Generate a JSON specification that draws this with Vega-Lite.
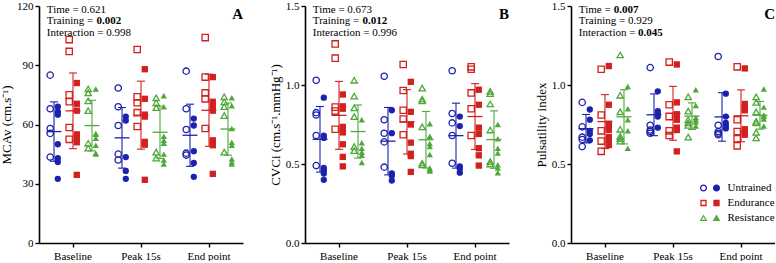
{
  "$schema": "https://vega.github.io/schema/vega-lite/v6.json",
  "background": "white",
  "padding": {"left": 0, "top": 0, "right": 0, "bottom": 0},
  "config": {
    "font": "Liberation Serif",
    "view": {"stroke": null},
    "axis": {"grid": false, "domainColor": "black", "domainWidth": 1.6, "tickColor": "black", "tickWidth": 1.4, "tickSize": 4, "labelColor": "black", "labelFont": "Liberation Serif", "labelFontSize": 11, "labelPadding": 2, "titleColor": "black", "titleFont": "Liberation Serif", "titleFontSize": 13, "titleFontWeight": "normal"},
    "axisX": {"labelPadding": 3, "labelAngle": 0},
    "axisY": {"titlePadding": 3},
    "legend": {
      "orient": "none", "legendX": 664, "legendY": 175, "title": null,
      "labelFont": "Liberation Serif", "labelFontSize": 11, "labelColor": "black", "labelOffset": 10.5,
      "symbolSize": 196, "symbolStrokeWidth": 0, "rowPadding": 3
    }
  },
  "datasets": {
    "mcav": [
      {"time":"Baseline","group":"Untrained","kind":"open","value":85},
      {"time":"Baseline","group":"Untrained","kind":"open","value":68},
      {"time":"Baseline","group":"Untrained","kind":"open","value":58},
      {"time":"Baseline","group":"Untrained","kind":"open","value":55.5},
      {"time":"Baseline","group":"Untrained","kind":"open","value":43.5},
      {"time":"Baseline","group":"Untrained","kind":"filled","value":69},
      {"time":"Baseline","group":"Untrained","kind":"filled","value":66.5},
      {"time":"Baseline","group":"Untrained","kind":"filled","value":65},
      {"time":"Baseline","group":"Untrained","kind":"filled","value":50},
      {"time":"Baseline","group":"Untrained","kind":"filled","value":43},
      {"time":"Baseline","group":"Untrained","kind":"filled","value":41},
      {"time":"Baseline","group":"Untrained","kind":"filled","value":32.5},
      {"time":"Baseline","group":"Endurance","kind":"open","value":103},
      {"time":"Baseline","group":"Endurance","kind":"open","value":97},
      {"time":"Baseline","group":"Endurance","kind":"open","value":75},
      {"time":"Baseline","group":"Endurance","kind":"open","value":71.5},
      {"time":"Baseline","group":"Endurance","kind":"open","value":58.5},
      {"time":"Baseline","group":"Endurance","kind":"open","value":52.5},
      {"time":"Baseline","group":"Endurance","kind":"filled","value":81},
      {"time":"Baseline","group":"Endurance","kind":"filled","value":70.5},
      {"time":"Baseline","group":"Endurance","kind":"filled","value":67},
      {"time":"Baseline","group":"Endurance","kind":"filled","value":55},
      {"time":"Baseline","group":"Endurance","kind":"filled","value":53.5},
      {"time":"Baseline","group":"Endurance","kind":"filled","value":51},
      {"time":"Baseline","group":"Endurance","kind":"filled","value":34.5},
      {"time":"Baseline","group":"Resistance","kind":"open","value":78},
      {"time":"Baseline","group":"Resistance","kind":"open","value":76},
      {"time":"Baseline","group":"Resistance","kind":"open","value":72},
      {"time":"Baseline","group":"Resistance","kind":"open","value":67},
      {"time":"Baseline","group":"Resistance","kind":"open","value":50.5},
      {"time":"Baseline","group":"Resistance","kind":"open","value":48},
      {"time":"Baseline","group":"Resistance","kind":"filled","value":78},
      {"time":"Baseline","group":"Resistance","kind":"filled","value":55.5},
      {"time":"Baseline","group":"Resistance","kind":"filled","value":55},
      {"time":"Baseline","group":"Resistance","kind":"filled","value":53},
      {"time":"Baseline","group":"Resistance","kind":"filled","value":49.5},
      {"time":"Baseline","group":"Resistance","kind":"filled","value":45.5},
      {"time":"Baseline","group":"Resistance","kind":"filled","value":45},
      {"time":"Peak 15s","group":"Untrained","kind":"open","value":78.5},
      {"time":"Peak 15s","group":"Untrained","kind":"open","value":69},
      {"time":"Peak 15s","group":"Untrained","kind":"open","value":59.5},
      {"time":"Peak 15s","group":"Untrained","kind":"open","value":45},
      {"time":"Peak 15s","group":"Untrained","kind":"open","value":42},
      {"time":"Peak 15s","group":"Untrained","kind":"filled","value":64},
      {"time":"Peak 15s","group":"Untrained","kind":"filled","value":62},
      {"time":"Peak 15s","group":"Untrained","kind":"filled","value":43.5},
      {"time":"Peak 15s","group":"Untrained","kind":"filled","value":36.5},
      {"time":"Peak 15s","group":"Untrained","kind":"filled","value":32.5},
      {"time":"Peak 15s","group":"Endurance","kind":"open","value":98},
      {"time":"Peak 15s","group":"Endurance","kind":"open","value":74},
      {"time":"Peak 15s","group":"Endurance","kind":"open","value":71},
      {"time":"Peak 15s","group":"Endurance","kind":"open","value":66},
      {"time":"Peak 15s","group":"Endurance","kind":"open","value":59},
      {"time":"Peak 15s","group":"Endurance","kind":"filled","value":88},
      {"time":"Peak 15s","group":"Endurance","kind":"filled","value":73},
      {"time":"Peak 15s","group":"Endurance","kind":"filled","value":65},
      {"time":"Peak 15s","group":"Endurance","kind":"filled","value":64},
      {"time":"Peak 15s","group":"Endurance","kind":"filled","value":51.2},
      {"time":"Peak 15s","group":"Endurance","kind":"filled","value":50.5},
      {"time":"Peak 15s","group":"Endurance","kind":"filled","value":49.8},
      {"time":"Peak 15s","group":"Endurance","kind":"filled","value":32},
      {"time":"Peak 15s","group":"Resistance","kind":"open","value":73.5},
      {"time":"Peak 15s","group":"Resistance","kind":"open","value":71},
      {"time":"Peak 15s","group":"Resistance","kind":"open","value":68.5},
      {"time":"Peak 15s","group":"Resistance","kind":"open","value":46},
      {"time":"Peak 15s","group":"Resistance","kind":"open","value":43},
      {"time":"Peak 15s","group":"Resistance","kind":"filled","value":74.5},
      {"time":"Peak 15s","group":"Resistance","kind":"filled","value":69},
      {"time":"Peak 15s","group":"Resistance","kind":"filled","value":54},
      {"time":"Peak 15s","group":"Resistance","kind":"filled","value":52},
      {"time":"Peak 15s","group":"Resistance","kind":"filled","value":50.5},
      {"time":"Peak 15s","group":"Resistance","kind":"filled","value":45},
      {"time":"Peak 15s","group":"Resistance","kind":"filled","value":42},
      {"time":"Peak 15s","group":"Resistance","kind":"filled","value":40},
      {"time":"End point","group":"Untrained","kind":"open","value":87},
      {"time":"End point","group":"Untrained","kind":"open","value":68},
      {"time":"End point","group":"Untrained","kind":"open","value":57.5},
      {"time":"End point","group":"Untrained","kind":"open","value":45.5},
      {"time":"End point","group":"Untrained","kind":"open","value":44.5},
      {"time":"End point","group":"Untrained","kind":"filled","value":63},
      {"time":"End point","group":"Untrained","kind":"filled","value":59.5},
      {"time":"End point","group":"Untrained","kind":"filled","value":46.5},
      {"time":"End point","group":"Untrained","kind":"filled","value":40.5},
      {"time":"End point","group":"Untrained","kind":"filled","value":33.5},
      {"time":"End point","group":"Endurance","kind":"open","value":104},
      {"time":"End point","group":"Endurance","kind":"open","value":84},
      {"time":"End point","group":"Endurance","kind":"open","value":76},
      {"time":"End point","group":"Endurance","kind":"open","value":73},
      {"time":"End point","group":"Endurance","kind":"open","value":58},
      {"time":"End point","group":"Endurance","kind":"filled","value":84},
      {"time":"End point","group":"Endurance","kind":"filled","value":71.5},
      {"time":"End point","group":"Endurance","kind":"filled","value":69},
      {"time":"End point","group":"Endurance","kind":"filled","value":67},
      {"time":"End point","group":"Endurance","kind":"filled","value":52},
      {"time":"End point","group":"Endurance","kind":"filled","value":50.5},
      {"time":"End point","group":"Endurance","kind":"filled","value":49.5},
      {"time":"End point","group":"Endurance","kind":"filled","value":35},
      {"time":"End point","group":"Resistance","kind":"open","value":74},
      {"time":"End point","group":"Resistance","kind":"open","value":71.5},
      {"time":"End point","group":"Resistance","kind":"open","value":69},
      {"time":"End point","group":"Resistance","kind":"open","value":64.5},
      {"time":"End point","group":"Resistance","kind":"open","value":46},
      {"time":"End point","group":"Resistance","kind":"filled","value":73.5},
      {"time":"End point","group":"Resistance","kind":"filled","value":69.5},
      {"time":"End point","group":"Resistance","kind":"filled","value":58},
      {"time":"End point","group":"Resistance","kind":"filled","value":51},
      {"time":"End point","group":"Resistance","kind":"filled","value":49.5},
      {"time":"End point","group":"Resistance","kind":"filled","value":42.5},
      {"time":"End point","group":"Resistance","kind":"filled","value":41},
      {"time":"End point","group":"Resistance","kind":"filled","value":40}
    ],
    "cvci": [
      {"time":"Baseline","group":"Untrained","kind":"open","value":1.03},
      {"time":"Baseline","group":"Untrained","kind":"open","value":0.825},
      {"time":"Baseline","group":"Untrained","kind":"open","value":0.81},
      {"time":"Baseline","group":"Untrained","kind":"open","value":0.68},
      {"time":"Baseline","group":"Untrained","kind":"open","value":0.49},
      {"time":"Baseline","group":"Untrained","kind":"filled","value":0.92},
      {"time":"Baseline","group":"Untrained","kind":"filled","value":0.68},
      {"time":"Baseline","group":"Untrained","kind":"filled","value":0.665},
      {"time":"Baseline","group":"Untrained","kind":"filled","value":0.475},
      {"time":"Baseline","group":"Untrained","kind":"filled","value":0.46},
      {"time":"Baseline","group":"Untrained","kind":"filled","value":0.44},
      {"time":"Baseline","group":"Untrained","kind":"filled","value":0.40},
      {"time":"Baseline","group":"Endurance","kind":"open","value":1.26},
      {"time":"Baseline","group":"Endurance","kind":"open","value":1.17},
      {"time":"Baseline","group":"Endurance","kind":"open","value":0.86},
      {"time":"Baseline","group":"Endurance","kind":"open","value":0.835},
      {"time":"Baseline","group":"Endurance","kind":"open","value":0.72},
      {"time":"Baseline","group":"Endurance","kind":"filled","value":0.94},
      {"time":"Baseline","group":"Endurance","kind":"filled","value":0.865},
      {"time":"Baseline","group":"Endurance","kind":"filled","value":0.85},
      {"time":"Baseline","group":"Endurance","kind":"filled","value":0.735},
      {"time":"Baseline","group":"Endurance","kind":"filled","value":0.72},
      {"time":"Baseline","group":"Endurance","kind":"filled","value":0.70},
      {"time":"Baseline","group":"Endurance","kind":"filled","value":0.625},
      {"time":"Baseline","group":"Endurance","kind":"filled","value":0.545},
      {"time":"Baseline","group":"Endurance","kind":"filled","value":0.485},
      {"time":"Baseline","group":"Resistance","kind":"open","value":1.03},
      {"time":"Baseline","group":"Resistance","kind":"open","value":0.93},
      {"time":"Baseline","group":"Resistance","kind":"open","value":0.855},
      {"time":"Baseline","group":"Resistance","kind":"open","value":0.80},
      {"time":"Baseline","group":"Resistance","kind":"open","value":0.61},
      {"time":"Baseline","group":"Resistance","kind":"open","value":0.585},
      {"time":"Baseline","group":"Resistance","kind":"filled","value":0.78},
      {"time":"Baseline","group":"Resistance","kind":"filled","value":0.635},
      {"time":"Baseline","group":"Resistance","kind":"filled","value":0.60},
      {"time":"Baseline","group":"Resistance","kind":"filled","value":0.575},
      {"time":"Baseline","group":"Resistance","kind":"filled","value":0.555},
      {"time":"Baseline","group":"Resistance","kind":"filled","value":0.51},
      {"time":"Peak 15s","group":"Untrained","kind":"open","value":1.055},
      {"time":"Peak 15s","group":"Untrained","kind":"open","value":0.78},
      {"time":"Peak 15s","group":"Untrained","kind":"open","value":0.695},
      {"time":"Peak 15s","group":"Untrained","kind":"open","value":0.64},
      {"time":"Peak 15s","group":"Untrained","kind":"open","value":0.48},
      {"time":"Peak 15s","group":"Untrained","kind":"filled","value":0.84},
      {"time":"Peak 15s","group":"Untrained","kind":"filled","value":0.695},
      {"time":"Peak 15s","group":"Untrained","kind":"filled","value":0.44},
      {"time":"Peak 15s","group":"Untrained","kind":"filled","value":0.425},
      {"time":"Peak 15s","group":"Untrained","kind":"filled","value":0.395},
      {"time":"Peak 15s","group":"Endurance","kind":"open","value":1.13},
      {"time":"Peak 15s","group":"Endurance","kind":"open","value":0.965},
      {"time":"Peak 15s","group":"Endurance","kind":"open","value":0.84},
      {"time":"Peak 15s","group":"Endurance","kind":"open","value":0.785},
      {"time":"Peak 15s","group":"Endurance","kind":"open","value":0.685},
      {"time":"Peak 15s","group":"Endurance","kind":"filled","value":1.02},
      {"time":"Peak 15s","group":"Endurance","kind":"filled","value":0.83},
      {"time":"Peak 15s","group":"Endurance","kind":"filled","value":0.75},
      {"time":"Peak 15s","group":"Endurance","kind":"filled","value":0.635},
      {"time":"Peak 15s","group":"Endurance","kind":"filled","value":0.565},
      {"time":"Peak 15s","group":"Endurance","kind":"filled","value":0.55},
      {"time":"Peak 15s","group":"Endurance","kind":"filled","value":0.45},
      {"time":"Peak 15s","group":"Resistance","kind":"open","value":0.98},
      {"time":"Peak 15s","group":"Resistance","kind":"open","value":0.91},
      {"time":"Peak 15s","group":"Resistance","kind":"open","value":0.90},
      {"time":"Peak 15s","group":"Resistance","kind":"open","value":0.735},
      {"time":"Peak 15s","group":"Resistance","kind":"open","value":0.505},
      {"time":"Peak 15s","group":"Resistance","kind":"open","value":0.495},
      {"time":"Peak 15s","group":"Resistance","kind":"filled","value":0.755},
      {"time":"Peak 15s","group":"Resistance","kind":"filled","value":0.675},
      {"time":"Peak 15s","group":"Resistance","kind":"filled","value":0.63},
      {"time":"Peak 15s","group":"Resistance","kind":"filled","value":0.61},
      {"time":"Peak 15s","group":"Resistance","kind":"filled","value":0.56},
      {"time":"Peak 15s","group":"Resistance","kind":"filled","value":0.475},
      {"time":"Peak 15s","group":"Resistance","kind":"filled","value":0.465},
      {"time":"Peak 15s","group":"Resistance","kind":"filled","value":0.455},
      {"time":"End point","group":"Untrained","kind":"open","value":1.09},
      {"time":"End point","group":"Untrained","kind":"open","value":0.82},
      {"time":"End point","group":"Untrained","kind":"open","value":0.76},
      {"time":"End point","group":"Untrained","kind":"open","value":0.68},
      {"time":"End point","group":"Untrained","kind":"open","value":0.505},
      {"time":"End point","group":"Untrained","kind":"filled","value":0.80},
      {"time":"End point","group":"Untrained","kind":"filled","value":0.74},
      {"time":"End point","group":"Untrained","kind":"filled","value":0.485},
      {"time":"End point","group":"Untrained","kind":"filled","value":0.47},
      {"time":"End point","group":"Untrained","kind":"filled","value":0.445},
      {"time":"End point","group":"Endurance","kind":"open","value":1.115},
      {"time":"End point","group":"Endurance","kind":"open","value":1.10},
      {"time":"End point","group":"Endurance","kind":"open","value":0.95},
      {"time":"End point","group":"Endurance","kind":"open","value":0.85},
      {"time":"End point","group":"Endurance","kind":"open","value":0.68},
      {"time":"End point","group":"Endurance","kind":"filled","value":0.97},
      {"time":"End point","group":"Endurance","kind":"filled","value":0.875},
      {"time":"End point","group":"Endurance","kind":"filled","value":0.73},
      {"time":"End point","group":"Endurance","kind":"filled","value":0.69},
      {"time":"End point","group":"Endurance","kind":"filled","value":0.60},
      {"time":"End point","group":"Endurance","kind":"filled","value":0.555},
      {"time":"End point","group":"Endurance","kind":"filled","value":0.49},
      {"time":"End point","group":"Resistance","kind":"open","value":0.96},
      {"time":"End point","group":"Resistance","kind":"open","value":0.945},
      {"time":"End point","group":"Resistance","kind":"open","value":0.88},
      {"time":"End point","group":"Resistance","kind":"open","value":0.715},
      {"time":"End point","group":"Resistance","kind":"open","value":0.515},
      {"time":"End point","group":"Resistance","kind":"open","value":0.50},
      {"time":"End point","group":"Resistance","kind":"filled","value":0.75},
      {"time":"End point","group":"Resistance","kind":"filled","value":0.66},
      {"time":"End point","group":"Resistance","kind":"filled","value":0.60},
      {"time":"End point","group":"Resistance","kind":"filled","value":0.57},
      {"time":"End point","group":"Resistance","kind":"filled","value":0.495},
      {"time":"End point","group":"Resistance","kind":"filled","value":0.475},
      {"time":"End point","group":"Resistance","kind":"filled","value":0.445}
    ],
    "pi": [
      {"time":"Baseline","group":"Untrained","kind":"open","value":0.89},
      {"time":"Baseline","group":"Untrained","kind":"open","value":0.735},
      {"time":"Baseline","group":"Untrained","kind":"open","value":0.67},
      {"time":"Baseline","group":"Untrained","kind":"open","value":0.655},
      {"time":"Baseline","group":"Untrained","kind":"open","value":0.61},
      {"time":"Baseline","group":"Untrained","kind":"filled","value":0.845},
      {"time":"Baseline","group":"Untrained","kind":"filled","value":0.78},
      {"time":"Baseline","group":"Untrained","kind":"filled","value":0.71},
      {"time":"Baseline","group":"Untrained","kind":"filled","value":0.69},
      {"time":"Baseline","group":"Untrained","kind":"filled","value":0.65},
      {"time":"Baseline","group":"Endurance","kind":"open","value":1.10},
      {"time":"Baseline","group":"Endurance","kind":"open","value":0.81},
      {"time":"Baseline","group":"Endurance","kind":"open","value":0.71},
      {"time":"Baseline","group":"Endurance","kind":"open","value":0.645},
      {"time":"Baseline","group":"Endurance","kind":"open","value":0.58},
      {"time":"Baseline","group":"Endurance","kind":"filled","value":1.12},
      {"time":"Baseline","group":"Endurance","kind":"filled","value":0.875},
      {"time":"Baseline","group":"Endurance","kind":"filled","value":0.755},
      {"time":"Baseline","group":"Endurance","kind":"filled","value":0.735},
      {"time":"Baseline","group":"Endurance","kind":"filled","value":0.715},
      {"time":"Baseline","group":"Endurance","kind":"filled","value":0.67},
      {"time":"Baseline","group":"Endurance","kind":"filled","value":0.655},
      {"time":"Baseline","group":"Endurance","kind":"filled","value":0.62},
      {"time":"Baseline","group":"Resistance","kind":"open","value":1.19},
      {"time":"Baseline","group":"Resistance","kind":"open","value":0.935},
      {"time":"Baseline","group":"Resistance","kind":"open","value":0.83},
      {"time":"Baseline","group":"Resistance","kind":"open","value":0.72},
      {"time":"Baseline","group":"Resistance","kind":"open","value":0.675},
      {"time":"Baseline","group":"Resistance","kind":"open","value":0.66},
      {"time":"Baseline","group":"Resistance","kind":"open","value":0.645},
      {"time":"Baseline","group":"Resistance","kind":"filled","value":0.99},
      {"time":"Baseline","group":"Resistance","kind":"filled","value":0.85},
      {"time":"Baseline","group":"Resistance","kind":"filled","value":0.78},
      {"time":"Baseline","group":"Resistance","kind":"filled","value":0.71},
      {"time":"Baseline","group":"Resistance","kind":"filled","value":0.60},
      {"time":"Peak 15s","group":"Untrained","kind":"open","value":1.11},
      {"time":"Peak 15s","group":"Untrained","kind":"open","value":0.745},
      {"time":"Peak 15s","group":"Untrained","kind":"open","value":0.715},
      {"time":"Peak 15s","group":"Untrained","kind":"open","value":0.705},
      {"time":"Peak 15s","group":"Untrained","kind":"open","value":0.695},
      {"time":"Peak 15s","group":"Untrained","kind":"filled","value":0.96},
      {"time":"Peak 15s","group":"Untrained","kind":"filled","value":0.835},
      {"time":"Peak 15s","group":"Untrained","kind":"filled","value":0.82},
      {"time":"Peak 15s","group":"Untrained","kind":"filled","value":0.80},
      {"time":"Peak 15s","group":"Untrained","kind":"filled","value":0.73},
      {"time":"Peak 15s","group":"Endurance","kind":"open","value":1.145},
      {"time":"Peak 15s","group":"Endurance","kind":"open","value":0.875},
      {"time":"Peak 15s","group":"Endurance","kind":"open","value":0.80},
      {"time":"Peak 15s","group":"Endurance","kind":"open","value":0.71},
      {"time":"Peak 15s","group":"Endurance","kind":"open","value":0.68},
      {"time":"Peak 15s","group":"Endurance","kind":"filled","value":1.13},
      {"time":"Peak 15s","group":"Endurance","kind":"filled","value":0.89},
      {"time":"Peak 15s","group":"Endurance","kind":"filled","value":0.815},
      {"time":"Peak 15s","group":"Endurance","kind":"filled","value":0.78},
      {"time":"Peak 15s","group":"Endurance","kind":"filled","value":0.73},
      {"time":"Peak 15s","group":"Endurance","kind":"filled","value":0.715},
      {"time":"Peak 15s","group":"Endurance","kind":"filled","value":0.58},
      {"time":"Peak 15s","group":"Resistance","kind":"open","value":0.925},
      {"time":"Peak 15s","group":"Resistance","kind":"open","value":0.835},
      {"time":"Peak 15s","group":"Resistance","kind":"open","value":0.78},
      {"time":"Peak 15s","group":"Resistance","kind":"open","value":0.76},
      {"time":"Peak 15s","group":"Resistance","kind":"open","value":0.745},
      {"time":"Peak 15s","group":"Resistance","kind":"open","value":0.67},
      {"time":"Peak 15s","group":"Resistance","kind":"filled","value":0.97},
      {"time":"Peak 15s","group":"Resistance","kind":"filled","value":0.87},
      {"time":"Peak 15s","group":"Resistance","kind":"filled","value":0.795},
      {"time":"Peak 15s","group":"Resistance","kind":"filled","value":0.78},
      {"time":"Peak 15s","group":"Resistance","kind":"filled","value":0.765},
      {"time":"Peak 15s","group":"Resistance","kind":"filled","value":0.74},
      {"time":"End point","group":"Untrained","kind":"open","value":1.18},
      {"time":"End point","group":"Untrained","kind":"open","value":0.745},
      {"time":"End point","group":"Untrained","kind":"open","value":0.705},
      {"time":"End point","group":"Untrained","kind":"open","value":0.695},
      {"time":"End point","group":"Untrained","kind":"open","value":0.685},
      {"time":"End point","group":"Untrained","kind":"filled","value":0.945},
      {"time":"End point","group":"Untrained","kind":"filled","value":0.80},
      {"time":"End point","group":"Untrained","kind":"filled","value":0.76},
      {"time":"End point","group":"Untrained","kind":"filled","value":0.74},
      {"time":"End point","group":"Untrained","kind":"filled","value":0.725},
      {"time":"End point","group":"Endurance","kind":"open","value":1.115},
      {"time":"End point","group":"Endurance","kind":"open","value":0.78},
      {"time":"End point","group":"Endurance","kind":"open","value":0.705},
      {"time":"End point","group":"Endurance","kind":"open","value":0.66},
      {"time":"End point","group":"Endurance","kind":"open","value":0.615},
      {"time":"End point","group":"Endurance","kind":"filled","value":1.105},
      {"time":"End point","group":"Endurance","kind":"filled","value":0.88},
      {"time":"End point","group":"Endurance","kind":"filled","value":0.855},
      {"time":"End point","group":"Endurance","kind":"filled","value":0.84},
      {"time":"End point","group":"Endurance","kind":"filled","value":0.72},
      {"time":"End point","group":"Endurance","kind":"filled","value":0.70},
      {"time":"End point","group":"Endurance","kind":"filled","value":0.685},
      {"time":"End point","group":"Resistance","kind":"open","value":0.925},
      {"time":"End point","group":"Resistance","kind":"open","value":0.89},
      {"time":"End point","group":"Resistance","kind":"open","value":0.83},
      {"time":"End point","group":"Resistance","kind":"open","value":0.77},
      {"time":"End point","group":"Resistance","kind":"open","value":0.76},
      {"time":"End point","group":"Resistance","kind":"open","value":0.70},
      {"time":"End point","group":"Resistance","kind":"open","value":0.665},
      {"time":"End point","group":"Resistance","kind":"filled","value":0.975},
      {"time":"End point","group":"Resistance","kind":"filled","value":0.86},
      {"time":"End point","group":"Resistance","kind":"filled","value":0.81},
      {"time":"End point","group":"Resistance","kind":"filled","value":0.80},
      {"time":"End point","group":"Resistance","kind":"filled","value":0.785},
      {"time":"End point","group":"Resistance","kind":"filled","value":0.74}
    ]
  },
  "spacing": 62,
  "bounds": "flush",
  "hconcat": [
    {
      "width": 204, "height": 237,
      "data": {"name": "mcav"},
      "layer": [
        {
          "transform": [{"filter": "datum.kind === 'open'"}, {"calculate": "datum.group + ' ' + datum.kind", "as": "slot"}],
          "mark": {"type": "point", "filled": false, "size": 40, "strokeWidth": 1.3, "opacity": 1},
          "encoding": {
            "x": {"field": "time", "type": "nominal", "scale": {"domain": ["Baseline", "Peak 15s", "End point"], "paddingInner": 0.2, "paddingOuter": 0.1}, "axis": {"title": null}},
            "xOffset": {"field": "slot", "type": "nominal", "scale": {"domain": ["Untrained open", "Untrained mean", "Untrained filled", "gap a", "gap b", "Endurance open", "Endurance mean", "Endurance filled", "gap c", "gap d", "Resistance open", "Resistance mean", "Resistance filled"], "paddingInner": 0, "paddingOuter": 0.66}},
            "y": {"field": "value", "type": "quantitative", "scale": {"domain": [0, 120], "nice": false}, "axis": {"title": "MCAv (cm.s⁻¹)", "values": [0, 30, 60, 90, 120]}},
            "shape": {"field": "group", "type": "nominal", "scale": {"range": ["square", "triangle-up", "circle"]}, "legend": null},
            "stroke": {"field": "group", "type": "nominal", "scale": {"range": ["#d1211f", "#4ea83a", "#1c22ad"]}, "legend": null}
          }
        },
        {
          "transform": [{"filter": "datum.kind === 'filled'"}, {"calculate": "datum.group + ' ' + datum.kind", "as": "slot"}],
          "mark": {"type": "point", "filled": true, "size": 40, "strokeWidth": 0, "opacity": 1},
          "encoding": {
            "x": {"field": "time", "type": "nominal"},
            "xOffset": {"field": "slot", "type": "nominal"},
            "y": {"field": "value", "type": "quantitative"},
            "shape": {"field": "group", "type": "nominal", "legend": null},
            "fill": {"field": "group", "type": "nominal", "scale": {"domain": ["Untrained", "Endurance", "Resistance"], "range": ["#1c22ad", "#d1211f", "#4ea83a"]}}
          }
        },
        {
          "transform": [
            {"aggregate": [{"op": "mean", "field": "value", "as": "mean"}, {"op": "stdev", "field": "value", "as": "sd"}], "groupby": ["time", "group"]},
            {"calculate": "datum.mean - datum.sd", "as": "lower"},
            {"calculate": "datum.mean + datum.sd", "as": "upper"},
            {"calculate": "datum.group + ' mean'", "as": "slot"}
          ],
          "encoding": {
            "x": {"field": "time", "type": "nominal"},
            "xOffset": {"field": "slot", "type": "nominal"},
            "color": {"field": "group", "type": "nominal", "scale": {"range": ["#d1211f", "#4ea83a", "#1c22ad"]}, "legend": null}
          },
          "layer": [
            {"mark": {"type": "rule", "strokeWidth": 1.1}, "encoding": {"y": {"field": "lower", "type": "quantitative"}, "y2": {"field": "upper"}}},
            {"mark": {"type": "tick", "size": 8, "thickness": 1.1, "opacity": 1}, "encoding": {"y": {"field": "lower", "type": "quantitative"}}},
            {"mark": {"type": "tick", "size": 8, "thickness": 1.1, "opacity": 1}, "encoding": {"y": {"field": "upper", "type": "quantitative"}}},
            {"mark": {"type": "tick", "size": 15, "thickness": 1.3, "opacity": 1}, "encoding": {"y": {"field": "mean", "type": "quantitative"}}}
          ]
        },
        {
          "data": {"values": [{}]},
          "mark": {"type": "text", "text": ["Time = 0.621", "Training = ", "Interaction = 0.998"], "align": "left", "baseline": "top", "fontSize": 11, "lineHeight": 11.3, "dx": 1, "dy": -2, "color": "black"},
          "encoding": {"x": {"datum": "Baseline", "bandPosition": 0}, "y": {"datum": 120}}
        },
        {
          "data": {"values": [{}]},
          "mark": {"type": "text", "text": "0.002", "fontWeight": "bold", "align": "left", "baseline": "top", "fontSize": 11, "dx": 50.6, "dy": 9.3, "color": "black"},
          "encoding": {"x": {"datum": "Baseline", "bandPosition": 0}, "y": {"datum": 120}}
        },
        {
          "data": {"values": [{}]},
          "mark": {"type": "text", "text": "A", "fontSize": 15, "fontWeight": "bold", "align": "right", "baseline": "top", "dy": 1, "color": "black"},
          "encoding": {"x": {"value": "width"}, "y": {"datum": 120}}
        }
      ]
    },
    {
      "width": 204, "height": 237,
      "data": {"name": "cvci"},
      "layer": [
        {
          "transform": [{"filter": "datum.kind === 'open'"}, {"calculate": "datum.group + ' ' + datum.kind", "as": "slot"}],
          "mark": {"type": "point", "filled": false, "size": 40, "strokeWidth": 1.3, "opacity": 1},
          "encoding": {
            "x": {"field": "time", "type": "nominal", "scale": {"domain": ["Baseline", "Peak 15s", "End point"], "paddingInner": 0.2, "paddingOuter": 0.1}, "axis": {"title": null}},
            "xOffset": {"field": "slot", "type": "nominal", "scale": {"domain": ["Untrained open", "Untrained mean", "Untrained filled", "gap a", "gap b", "Endurance open", "Endurance mean", "Endurance filled", "gap c", "gap d", "Resistance open", "Resistance mean", "Resistance filled"], "paddingInner": 0, "paddingOuter": 0.66}},
            "y": {"field": "value", "type": "quantitative", "scale": {"domain": [0, 1.5], "nice": false}, "axis": {"title": "CVCi (cm.s⁻¹.mmHg⁻¹)", "values": [0, 0.25, 0.5, 0.75, 1, 1.25, 1.5], "labelExpr": "datum.value % 0.5 === 0 ? format(datum.value, '.1f') : ''"}},
            "shape": {"field": "group", "type": "nominal", "legend": null},
            "stroke": {"field": "group", "type": "nominal", "legend": null}
          }
        },
        {
          "transform": [{"filter": "datum.kind === 'filled'"}, {"calculate": "datum.group + ' ' + datum.kind", "as": "slot"}],
          "mark": {"type": "point", "filled": true, "size": 40, "strokeWidth": 0, "opacity": 1},
          "encoding": {
            "x": {"field": "time", "type": "nominal"},
            "xOffset": {"field": "slot", "type": "nominal"},
            "y": {"field": "value", "type": "quantitative"},
            "shape": {"field": "group", "type": "nominal", "legend": null},
            "fill": {"field": "group", "type": "nominal"}
          }
        },
        {
          "transform": [
            {"aggregate": [{"op": "mean", "field": "value", "as": "mean"}, {"op": "stdev", "field": "value", "as": "sd"}], "groupby": ["time", "group"]},
            {"calculate": "datum.mean - datum.sd", "as": "lower"},
            {"calculate": "datum.mean + datum.sd", "as": "upper"},
            {"calculate": "datum.group + ' mean'", "as": "slot"}
          ],
          "encoding": {
            "x": {"field": "time", "type": "nominal"},
            "xOffset": {"field": "slot", "type": "nominal"},
            "color": {"field": "group", "type": "nominal", "legend": null}
          },
          "layer": [
            {"mark": {"type": "rule", "strokeWidth": 1.1}, "encoding": {"y": {"field": "lower", "type": "quantitative"}, "y2": {"field": "upper"}}},
            {"mark": {"type": "tick", "size": 8, "thickness": 1.1, "opacity": 1}, "encoding": {"y": {"field": "lower", "type": "quantitative"}}},
            {"mark": {"type": "tick", "size": 8, "thickness": 1.1, "opacity": 1}, "encoding": {"y": {"field": "upper", "type": "quantitative"}}},
            {"mark": {"type": "tick", "size": 15, "thickness": 1.3, "opacity": 1}, "encoding": {"y": {"field": "mean", "type": "quantitative"}}}
          ]
        },
        {
          "data": {"values": [{}]},
          "mark": {"type": "text", "text": ["Time = 0.673", "Training = ", "Interaction = 0.996"], "align": "left", "baseline": "top", "fontSize": 11, "lineHeight": 11.3, "dx": 1, "dy": -2, "color": "black"},
          "encoding": {"x": {"datum": "Baseline", "bandPosition": 0}, "y": {"datum": 1.5}}
        },
        {
          "data": {"values": [{}]},
          "mark": {"type": "text", "text": "0.012", "fontWeight": "bold", "align": "left", "baseline": "top", "fontSize": 11, "dx": 50.6, "dy": 9.3, "color": "black"},
          "encoding": {"x": {"datum": "Baseline", "bandPosition": 0}, "y": {"datum": 1.5}}
        },
        {
          "data": {"values": [{}]},
          "mark": {"type": "text", "text": "B", "fontSize": 15, "fontWeight": "bold", "align": "right", "baseline": "top", "dy": 1, "color": "black"},
          "encoding": {"x": {"value": "width"}, "y": {"datum": 1.5}}
        }
      ]
    },
    {
      "width": 204, "height": 237,
      "data": {"name": "pi"},
      "layer": [
        {
          "transform": [{"filter": "datum.kind === 'open'"}, {"calculate": "datum.group + ' ' + datum.kind", "as": "slot"}],
          "mark": {"type": "point", "filled": false, "size": 40, "strokeWidth": 1.3, "opacity": 1},
          "encoding": {
            "x": {"field": "time", "type": "nominal", "scale": {"domain": ["Baseline", "Peak 15s", "End point"], "paddingInner": 0.2, "paddingOuter": 0.1}, "axis": {"title": null}},
            "xOffset": {"field": "slot", "type": "nominal", "scale": {"domain": ["Untrained open", "Untrained mean", "Untrained filled", "gap a", "gap b", "Endurance open", "Endurance mean", "Endurance filled", "gap c", "gap d", "Resistance open", "Resistance mean", "Resistance filled"], "paddingInner": 0, "paddingOuter": 0.66}},
            "y": {"field": "value", "type": "quantitative", "scale": {"domain": [0, 1.5], "nice": false}, "axis": {"title": "Pulsatility index", "values": [0, 0.25, 0.5, 0.75, 1, 1.25, 1.5], "labelExpr": "datum.value % 0.5 === 0 ? format(datum.value, '.1f') : ''"}},
            "shape": {"field": "group", "type": "nominal", "legend": null},
            "stroke": {"field": "group", "type": "nominal", "legend": null}
          }
        },
        {
          "transform": [{"filter": "datum.kind === 'filled'"}, {"calculate": "datum.group + ' ' + datum.kind", "as": "slot"}],
          "mark": {"type": "point", "filled": true, "size": 40, "strokeWidth": 0, "opacity": 1},
          "encoding": {
            "x": {"field": "time", "type": "nominal"},
            "xOffset": {"field": "slot", "type": "nominal"},
            "y": {"field": "value", "type": "quantitative"},
            "shape": {"field": "group", "type": "nominal", "legend": null},
            "fill": {
              "field": "group", "type": "nominal",
              "legend": {
                "encoding": {
                  "symbols": {
                    "shape": {
                      "condition": [
                        {"test": "datum.value === 'Endurance'", "value": "M -1.38,-0.45 H -0.48 V 0.45 H -1.38 Z M -1.194,-0.264 V 0.264 H -0.666 V -0.264 Z M 0.48,-0.45 H 1.38 V 0.45 H 0.48 Z"},
                        {"test": "datum.value === 'Resistance'", "value": "M -0.93,-0.514 L -0.387,0.429 L -1.473,0.429 Z M -0.93,-0.171 L -1.176,0.257 L -0.684,0.257 Z M 0.93,-0.514 L 1.473,0.429 L 0.387,0.429 Z"}
                      ],
                      "value": "M -1.437,0 A 0.507,0.507 0 1,1 -0.423,0 A 0.507,0.507 0 1,1 -1.437,0 Z M -1.25,0 A 0.32,0.32 0 1,0 -0.61,0 A 0.32,0.32 0 1,0 -1.25,0 Z M 0.423,0 A 0.507,0.507 0 1,1 1.437,0 A 0.507,0.507 0 1,1 0.423,0 Z"
                    }
                  }
                }
              }
            }
          }
        },
        {
          "transform": [
            {"aggregate": [{"op": "mean", "field": "value", "as": "mean"}, {"op": "stdev", "field": "value", "as": "sd"}], "groupby": ["time", "group"]},
            {"calculate": "datum.mean - datum.sd", "as": "lower"},
            {"calculate": "datum.mean + datum.sd", "as": "upper"},
            {"calculate": "datum.group + ' mean'", "as": "slot"}
          ],
          "encoding": {
            "x": {"field": "time", "type": "nominal"},
            "xOffset": {"field": "slot", "type": "nominal"},
            "color": {"field": "group", "type": "nominal", "legend": null}
          },
          "layer": [
            {"mark": {"type": "rule", "strokeWidth": 1.1}, "encoding": {"y": {"field": "lower", "type": "quantitative"}, "y2": {"field": "upper"}}},
            {"mark": {"type": "tick", "size": 8, "thickness": 1.1, "opacity": 1}, "encoding": {"y": {"field": "lower", "type": "quantitative"}}},
            {"mark": {"type": "tick", "size": 8, "thickness": 1.1, "opacity": 1}, "encoding": {"y": {"field": "upper", "type": "quantitative"}}},
            {"mark": {"type": "tick", "size": 15, "thickness": 1.3, "opacity": 1}, "encoding": {"y": {"field": "mean", "type": "quantitative"}}}
          ]
        },
        {
          "data": {"values": [{}]},
          "mark": {"type": "text", "text": ["Time = ", "Training = 0.929", "Interaction = "], "align": "left", "baseline": "top", "fontSize": 11, "lineHeight": 11.3, "dx": 1, "dy": -2, "color": "black"},
          "encoding": {"x": {"datum": "Baseline", "bandPosition": 0}, "y": {"datum": 1.5}}
        },
        {
          "data": {"values": [{}]},
          "mark": {"type": "text", "text": "0.007", "fontWeight": "bold", "align": "left", "baseline": "top", "fontSize": 11, "dx": 35.9, "dy": -2, "color": "black"},
          "encoding": {"x": {"datum": "Baseline", "bandPosition": 0}, "y": {"datum": 1.5}}
        },
        {
          "data": {"values": [{}]},
          "mark": {"type": "text", "text": "0.045", "fontWeight": "bold", "align": "left", "baseline": "top", "fontSize": 11, "dx": 60.3, "dy": 20.6, "color": "black"},
          "encoding": {"x": {"datum": "Baseline", "bandPosition": 0}, "y": {"datum": 1.5}}
        },
        {
          "data": {"values": [{}]},
          "mark": {"type": "text", "text": "C", "fontSize": 15, "fontWeight": "bold", "align": "right", "baseline": "top", "dy": 1, "color": "black"},
          "encoding": {"x": {"value": "width"}, "y": {"datum": 1.5}}
        }
      ]
    }
  ]
}
